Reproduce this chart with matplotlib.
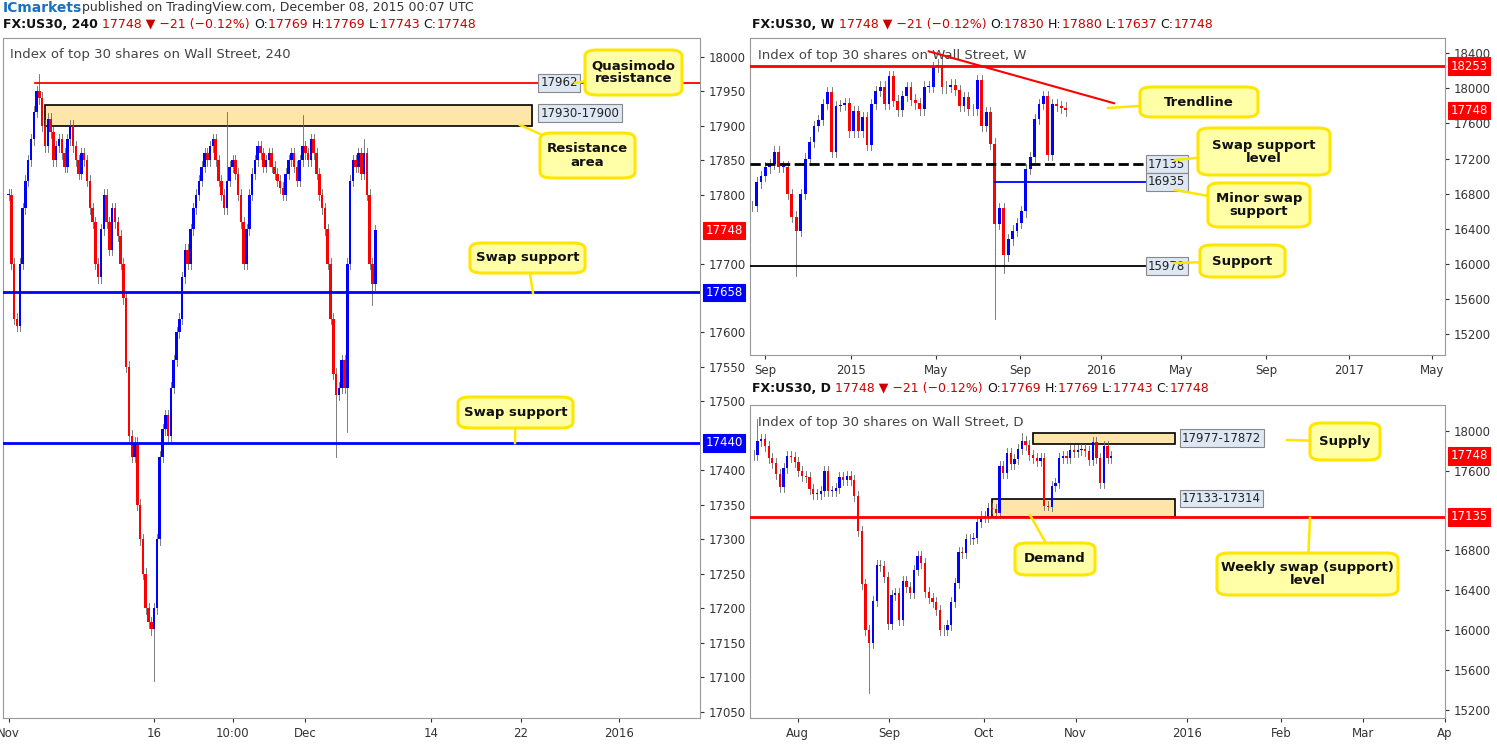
import matplotlib
matplotlib.use("Agg")
import matplotlib.pyplot as plt
from matplotlib.patches import FancyBboxPatch, Rectangle
import matplotlib.transforms as mtrans

plt.rcParams['font.family'] = ['DejaVu Sans']

# ---------------- DATA ----------------
h4_close = [17800,17700,17620,17610,17700,17780,
            17820,17850,17880,17920,17950,17940,17900,
            17870,17910,17890,17850,17870,17880,17860,17840,17880,17900,17870,17850,17830,17860,17850,17820,17780,17760,
            17700,17680,17750,17800,17760,17720,17780,17760,17740,17700,
            17650,17550,17450,17420,17440,17350,17300,17250,17200,17180,17170,17200,
            17300,17420,17460,17480,17450,17520,17560,17600,17620,17680,17720,17700,17750,17780,17800,17820,17840,17860,17850,17870,17880,17850,17820,17800,17780,17820,17840,17850,
            17830,17800,17760,17700,17750,17800,17830,17850,17870,17860,17840,17850,17860,17840,17830,17820,17810,17800,17830,17850,17860,17840,17820,17850,17870,17860,
            17850,17880,17860,17830,17800,17780,17750,17700,17620,17540,17510,17520,17560,17520,17700,17820,17850,17840,17860,17830,17860,17800,17700,17670,17748]
h4_spikes = {11: (17975, None), 52: (None, 17095), 78: (17920, None), 105: (17915, None),
             117: (None, 17420), 121: (None, 17455), 127: (17880, None), 130: (None, 17640)}
h4_ticks = [("Nov", 0), ("16", 52), ("10:00", 80), ("Dec", 106), ("14", 151), ("22", 183), ("2016", 218)]
h4_yticks = [17050,17100,17150,17200,17250,17300,17350,17400,17500,17550,17600,17700,17800,17850,17900,17950,18000]

w_close = [16660,16930,17000,17100,17140,17280,17110,17110,16800,16540,16380,16800,17200,17390,17570,17640,
           17820,17960,17280,17800,17810,17830,17510,17740,17510,17670,17360,17820,17970,18020,17820,18140,
           17860,17750,17910,18010,17870,17830,17760,18020,18020,18240,18270,18010,18020,18040,17980,17800,
           17900,17760,17760,18090,17570,17730,17370,16460,16640,16100,16280,16380,16470,16600,17080,17220,
           17650,17820,17910,17240,17820,17800,17780,17748]
w_spikes = {10: (None, 15860), 43: (18350, None), 55: (None, 15370), 57: (None, 15900)}
w_ticks = [("Sep", 2.9), ("2015", 22.4), ("May", 41.7), ("Sep", 60.8), ("2016", 79), ("May", 97.2), ("Sep", 116.5), ("2017", 135.2), ("May", 154)]
w_yticks = [15200,15600,16000,16400,16800,17200,17600,18000,18400]

d_close = [17760,17900,17920,17850,17730,17680,17570,17440,17630,17750,17740,17690,
           17600,17550,17540,17420,17370,17370,17400,17600,17400,17400,17430,17540,17510,17550,17510,17350,
           16990,16460,16000,15870,16290,16650,16640,16530,16060,16350,16370,16100,16490,16430,16370,16600,
           16740,16670,16380,16320,16280,16200,16000,16000,16050,16280,16470,16780,16770,16910,16910,16920,
           17080,17140,17130,17230,17220,17170,17650,17580,17780,17670,17720,17820,17900,17860,17760,17730,
           17700,17730,17250,17240,17450,17480,17730,17750,17730,17810,17790,17810,17820,17800,17710,17890,
           17730,17480,17850,17730,17748]
d_spikes = {31: (None, 15370), 1: (18120, None), 72: (17980, None), 79: (None, 17200)}
d_ticks = [("Aug", 11.8), ("Sep", 36.3), ("Oct", 61.8), ("Nov", 86.4), ("2016", 116.3), ("Feb", 141.6), ("Mar", 163.6), ("Ap", 185.6)]
d_yticks = [15200,15600,16000,16400,16800,17600,18000]

W, H = 1497, 744
fig = plt.figure(figsize=(W/100, H/100), dpi=100)

def box(x0, y0, x1, y1):
    return [x0/W, 1-y1/H, (x1-x0)/W, (y1-y0)/H]

UP, DN = '#0000ff', '#ff0000'

def candles(ax, closes, spikes, wick, width):
    for i, c in enumerate(closes):
        o = closes[i-1] if i > 0 else c
        hi = max(o, c) + wick
        lo = min(o, c) - wick
        if i in spikes:
            if spikes[i][0]: hi = spikes[i][0]
            if spikes[i][1]: lo = spikes[i][1]
        col = UP if c >= o else DN
        ax.plot([i, i], [lo, hi], color='#666666', lw=0.6, zorder=2)
        ax.add_patch(Rectangle((i-width/2, min(o, c)), width, max(abs(c-o), 1), color=col, zorder=3, lw=0))

def setup(ax, xlim, ylim, yticks, ticks):
    ax.set_xlim(*xlim); ax.set_ylim(*ylim)
    ax.yaxis.tick_right()
    ax.set_yticks(yticks)
    ax.set_xticks([t[1] for t in ticks]); ax.set_xticklabels([t[0] for t in ticks])
    ax.tick_params(labelsize=8.5, colors='#333333', length=3)
    for s in ax.spines.values():
        s.set_color('#999999')

def plabel(ax, y, s, fc, tc='white', ec=None):
    tr = mtrans.blended_transform_factory(ax.transAxes, ax.transData)
    ax.text(1.008, y, s, transform=tr, fontsize=8.5, color=tc, va='center', ha='left', zorder=10,
            bbox=dict(boxstyle='square,pad=0.2', fc=fc, ec=ec or fc, lw=0.8), clip_on=False)

def callout(x0, y0, x1, y1, text, px, py, fs=9.5):
    fig.patches.append(FancyBboxPatch((x0/W, 1-y1/H), (x1-x0)/W, (y1-y0)/H,
                       boxstyle='round,pad=0,rounding_size=0.008', transform=fig.transFigure,
                       fc='#ffffa8', ec='#ffe600', lw=2.2, zorder=20))
    cx, cy = (x0+x1)/2, (y0+y1)/2
    fig.lines.append(plt.Line2D([cx/W, px/W], [1-cy/H, 1-py/H], transform=fig.transFigure,
                                color='#ffe600', lw=1.8, zorder=19))
    fig.text(cx/W, 1-cy/H, text, ha='center', va='center', fontsize=fs, fontweight='bold',
             color='#111111', zorder=21, linespacing=1.0)

def small_label(ax, x, v, s):
    ax.text(x, v, s, fontsize=8.5, color='#222222', va='center', zorder=10,
            bbox=dict(boxstyle='square,pad=0.2', fc='#dde8f4', ec='#888888', lw=0.8))

# ---------------- LEFT 4H ----------------
ax1 = fig.add_axes(box(3, 38, 700, 718))
candles(ax1, h4_close, h4_spikes, 8, 0.9)
setup(ax1, (-2, 247), (17041, 18027), h4_yticks, h4_ticks)
ax1.axhline(17962, xmin=0.046, color='#ff0000', lw=1.3, zorder=4)
ax1.add_patch(Rectangle((13, 17900), 187-13, 30, fc='#fde6a8', ec='black', lw=1.2, zorder=1))
ax1.axhline(17658, color='#0000ff', lw=2, zorder=4)
ax1.axhline(17440, color='#0000ff', lw=2, zorder=4)
ax1.text(0.01, 0.985, "Index of top 30 shares on Wall Street, 240", transform=ax1.transAxes,
         fontsize=9.5, color='#444444', va='top')
small_label(ax1, 190, 17962, "17962")
small_label(ax1, 190, 17918, "17930-17900")
plabel(ax1, 17748, "17748", '#ff0000')
plabel(ax1, 17658, "17658", '#0000ff')
plabel(ax1, 17440, "17440", '#0000ff')

# ---------------- TOP RIGHT WEEKLY ----------------
ax2 = fig.add_axes(box(750, 38, 1445, 355))
candles(ax2, w_close, w_spikes, 60, 0.65)
setup(ax2, (-0.5, 157), (14966, 18572), w_yticks, w_ticks)
ax2.axhline(18253, color='#ff0000', lw=2, zorder=4)
ax2.plot([40, 82], [18420, 17830], color='#ff0000', lw=1.5, zorder=4)
ax2.plot([-0.5, 89], [17135, 17135], color='black', lw=2, ls='--', zorder=4)
ax2.plot([55, 89], [16935, 16935], color='#0000ff', lw=1.3, zorder=4)
ax2.plot([-0.5, 89], [15978, 15978], color='black', lw=1.3, zorder=4)
ax2.text(0.012, 0.965, "Index of top 30 shares on Wall Street, W", transform=ax2.transAxes,
         fontsize=9.5, color='#444444', va='top')
plabel(ax2, 18253, "18253", '#ff0000')
plabel(ax2, 17748, "17748", '#ff0000')
for v in (17135, 16935, 15978):
    small_label(ax2, 89.7, v, str(v))

# ---------------- BOTTOM RIGHT DAILY ----------------
ax3 = fig.add_axes(box(750, 405, 1445, 718))
candles(ax3, d_close, d_spikes, 50, 0.6)
setup(ax3, (-1, 175), (15115, 18260), d_yticks, d_ticks)
ax3.add_patch(Rectangle((75, 17872), 113-75, 105, fc='#fde6a8', ec='black', lw=1.2, zorder=1))
ax3.add_patch(Rectangle((64, 17133), 113-64, 181, fc='#fde6a8', ec='black', lw=1.2, zorder=1))
ax3.axhline(17135, color='#ff0000', lw=2, zorder=4)
ax3.text(0.012, 0.965, "Index of top 30 shares on Wall Street, D", transform=ax3.transAxes,
         fontsize=9.5, color='#444444', va='top')
plabel(ax3, 17748, "17748", '#ff0000')
plabel(ax3, 17135, "17135", '#ff0000')
small_label(ax3, 115, 17925, "17977-17872")
small_label(ax3, 115, 17320, "17133-17314")

# ---------------- HEADERS ----------------
fig.text(3/W, 1-8/H, "ICmarkets", color='#1a6fc0', fontsize=10, fontweight='bold', va='center')
fig.text(82/W, 1-8/H, "published on TradingView.com, December 08, 2015 00:07 UTC", color='#333333',
         fontsize=9, va='center')

def simple_header(x, y, tf, o, h, l, c):
    parts = [("FX:US30, " + tf + " ", '#111111', True), ("17748 ▼ −21 (−0.12%) ", '#cc0000', False),
             ("O:", '#111111', False), (o + " ", '#cc0000', False), ("H:", '#111111', False), (h + " ", '#cc0000', False),
             ("L:", '#111111', False), (l + " ", '#cc0000', False), ("C:", '#111111', False), (c, '#cc0000', False)]
    fig.canvas.draw()
    r = fig.canvas.get_renderer()
    xx = x
    for s, col, b in parts:
        t = fig.text(xx/W, 1-y/H, s, color=col, fontsize=9, fontweight='bold' if b else 'normal', va='center')
        xx += t.get_window_extent(renderer=r).width

simple_header(3, 24, "240", "17769", "17769", "17743", "17748")
simple_header(752, 24, "W", "17830", "17880", "17637", "17748")
simple_header(752, 388, "D", "17769", "17769", "17743", "17748")

# ---------------- CALLOUTS ----------------
callout(585, 50, 682, 95, "Quasimodo\nresistance", 575, 83)
callout(540, 133, 635, 178, "Resistance\narea", 520, 125)
callout(470, 243, 585, 273, "Swap support", 533, 293)
callout(458, 397, 573, 428, "Swap support", 515, 443)
callout(1140, 87, 1258, 117, "Trendline", 1108, 108)
callout(1198, 128, 1330, 175, "Swap support\nlevel", 1175, 160)
callout(1208, 183, 1310, 227, "Minor swap\nsupport", 1175, 190)
callout(1200, 245, 1285, 277, "Support", 1175, 263)
callout(1310, 423, 1380, 460, "Supply", 1287, 440)
callout(1015, 543, 1095, 575, "Demand", 1030, 515)
callout(1217, 553, 1398, 595, "Weekly swap (support)\nlevel", 1310, 518)

fig.savefig("out.png", dpi=100, facecolor='white')
